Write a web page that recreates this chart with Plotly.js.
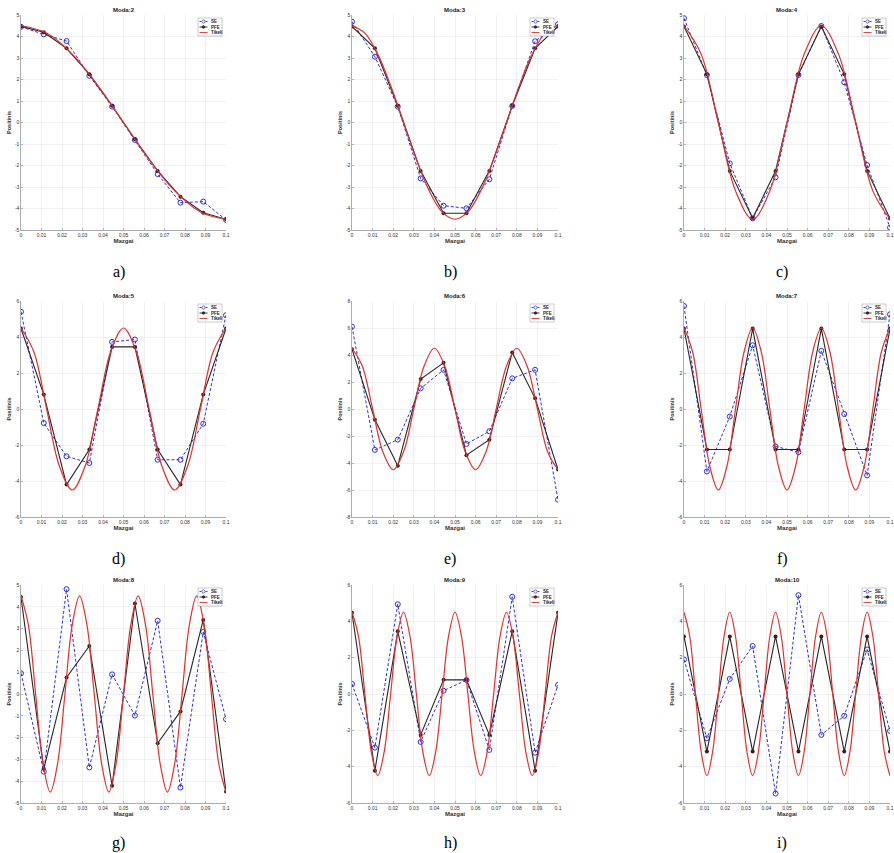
<!DOCTYPE html>
<html><head><meta charset="utf-8">
<script src="https://cdn.plot.ly/plotly-3.0.1.min.js"></script>
<style>html,body{margin:0;padding:0;background:#fff}#chart{width:894px;height:853px}</style>
</head><body><div id="chart"></div>
<script>
// ---------- data ----------
const nodeX = [0, 0.01111, 0.02222, 0.03333, 0.04444, 0.05556, 0.06667, 0.07778, 0.08889, 0.1];
const modeTitles = ['Moda:2','Moda:3','Moda:4','Moda:5','Moda:6','Moda:7','Moda:8','Moda:9','Moda:10'];
const panelLabels = ['a)','b)','c)','d)','e)','f)','g)','h)','i)'];
const seriesNames = ['SE','PFE','Tikeli'];
const xTickVals = [0,0.01,0.02,0.03,0.04,0.05,0.06,0.07,0.08,0.09,0.1];
const xTickText = ['0','0.01','0.02','0.03','0.04','0.05','0.06','0.07','0.08','0.09','0.1'];
const yLimit = [5,5,5,6,8,6,5,6,6];
const yStep  = [1,1,1,2,2,2,1,2,2];

const seM2  = [4.45, 4.1, 3.79, 2.17, 0.74, -0.81, -2.4, -3.73, -3.68, -4.53];
const pfeM2 = [4.47, 4.2, 3.45, 2.25, 0.78, -0.78, -2.25, -3.45, -4.2, -4.5];
const tikXM2 = [0,0.0125,0.025,0.0375,0.05,0.0625,0.075,0.0875,0.1];
const tikYM2 = [4.5,4.16,3.18,1.72,0,-1.72,-3.18,-4.16,-4.5];

const seM3  = [4.69, 3.06, 0.74, -2.6, -3.87, -3.99, -2.64, 0.77, 3.78, 4.57];
const pfeM3 = [4.47, 3.45, 0.78, -2.25, -4.22, -4.22, -2.25, 0.78, 3.45, 4.47];
const tikXM3 = [0,0.00625,0.0125,0.01875,0.025,0.03125,0.0375,0.04375,0.05,0.05625,0.0625,0.06875,0.075,0.08125,0.0875,0.09375,0.1];
const tikYM3 = [4.5,4.16,3.18,1.72,0,-1.72,-3.18,-4.16,-4.5,-4.16,-3.18,-1.72,0,1.72,3.18,4.16,4.5];

const seM4  = [4.85, 2.21, -1.9, -4.46, -2.55, 2.21, 4.49, 1.87, -1.98, -4.89];
const pfeM4 = [4.47, 2.25, -2.25, -4.45, -2.25, 2.25, 4.47, 2.25, -2.25, -4.47];
const tikXM4 = [0,0.00833,0.01667,0.025,0.03333,0.04167,0.05,0.05833,0.06667,0.075,0.08333,0.09167,0.1];
const tikYM4 = [4.5,3.18,0,-3.18,-4.5,-3.18,0,3.18,4.5,3.18,0,-3.18,-4.5];

const seM5  = [5.4, -0.78, -2.63, -3.0, 3.73, 3.86, -2.82, -2.82, -0.82, 5.21];
const pfeM5 = [4.47, 0.8, -4.2, -2.25, 3.45, 3.45, -2.25, -4.2, 0.8, 4.47];
const tikXM5 = [0,0.00625,0.0125,0.01875,0.025,0.03125,0.0375,0.04375,0.05,0.05625,0.0625,0.06875,0.075,0.08125,0.0875,0.09375,0.1];
const tikYM5 = [4.5,3.18,0,-3.18,-4.5,-3.18,0,3.18,4.5,3.18,0,-3.18,-4.5,-3.18,0,3.18,4.5];

const seM6  = [6.1, -3.03, -2.27, 1.53, 2.9, -2.59, -1.65, 2.27, 2.9, -6.72];
const pfeM6 = [4.43, -0.8, -4.2, 2.22, 3.42, -3.42, -2.27, 4.19, 0.79, -4.48];
const tikXM6 = [0,0.005,0.01,0.015,0.02,0.025,0.03,0.035,0.04,0.045,0.05,0.055,0.06,0.065,0.07,0.075,0.08,0.085,0.09,0.095,0.1];
const tikYM6 = [4.5,3.18,0,-3.18,-4.5,-3.18,0,3.18,4.5,3.18,0,-3.18,-4.5,-3.18,0,3.18,4.5,3.18,0,-3.18,-4.5];

const seM7  = [5.72, -3.47, -0.42, 3.54, -2.08, -2.4, 3.23, -0.28, -3.69, 5.26];
const pfeM7 = [4.47, -2.25, -2.25, 4.47, -2.25, -2.25, 4.47, -2.25, -2.25, 4.47];
const tikXM7 = [0,0.00417,0.00833,0.0125,0.01667,0.02083,0.025,0.02917,0.03333,0.0375,0.04167,0.04583,0.05,0.05417,0.05833,0.0625,0.06667,0.07083,0.075,0.07917,0.08333,0.0875,0.09167,0.09583,0.1];
const tikYM7 = [4.5,3.18,0,-3.18,-4.5,-3.18,0,3.18,4.5,3.18,0,-3.18,-4.5,-3.18,0,3.18,4.5,3.18,0,-3.18,-4.5,-3.18,0,3.18,4.5];

const seM8  = [0.95, -3.56, 4.81, -3.37, 0.9, -0.99, 3.36, -4.29, 2.85, -1.15];
const pfeM8 = [4.45, -3.43, 0.76, 2.2, -4.21, 4.15, -2.26, -0.8, 3.4, -4.47];
const tikXM8 = [0,0.00357,0.00714,0.01071,0.01429,0.01786,0.02143,0.025,0.02857,0.03214,0.03571,0.03929,0.04286,0.04643,0.05,0.05357,0.05714,0.06071,0.06429,0.06786,0.07143,0.075,0.07857,0.08214,0.08571,0.08929,0.09286,0.09643,0.1];
const tikYM8 = [4.5,3.18,0,-3.18,-4.5,-3.18,0,3.18,4.5,3.18,0,-3.18,-4.5,-3.18,0,3.18,4.5,3.18,0,-3.18,-4.5,-3.18,0,3.18,4.5,3.18,0,-3.18,-4.5];

const seM9  = [0.55, -2.95, 4.94, -2.64, 0.18, 0.77, -3.08, 5.35, -3.23, 0.5];
const pfeM9 = [4.47, -4.22, 3.45, -2.25, 0.78, 0.78, -2.25, 3.45, -4.22, 4.47];
const tikXM9 = [0,0.003125,0.00625,0.009375,0.0125,0.015625,0.01875,0.021875,0.025,0.028125,0.03125,0.034375,0.0375,0.040625,0.04375,0.046875,0.05,0.053125,0.05625,0.059375,0.0625,0.065625,0.06875,0.071875,0.075,0.078125,0.08125,0.084375,0.0875,0.090625,0.09375,0.096875,0.1];
const tikYM9 = [4.5,3.18,0,-3.18,-4.5,-3.18,0,3.18,4.5,3.18,0,-3.18,-4.5,-3.18,0,3.18,4.5,3.18,0,-3.18,-4.5,-3.18,0,3.18,4.5,3.18,0,-3.18,-4.5,-3.18,0,3.18,4.5];

const seM10  = [1.9, -2.44, 0.83, 2.64, -5.48, 5.44, -2.25, -1.2, 2.45, -2.03];
const pfeM10 = [3.17, -3.17, 3.17, -3.17, 3.17, -3.17, 3.17, -3.17, 3.17, -3.17];
const tikXM10 = [0,0.00278,0.00556,0.00833,0.01111,0.01389,0.01667,0.01944,0.02222,0.025,0.02778,0.03056,0.03333,0.03611,0.03889,0.04167,0.04444,0.04722,0.05,0.05278,0.05556,0.05833,0.06111,0.06389,0.06667,0.06944,0.07222,0.075,0.07778,0.08056,0.08333,0.08611,0.08889,0.09167,0.09444,0.09722,0.1];
const tikYM10 = [4.5,3.18,0,-3.18,-4.5,-3.18,0,3.18,4.5,3.18,0,-3.18,-4.5,-3.18,0,3.18,4.5,3.18,0,-3.18,-4.5,-3.18,0,3.18,4.5,3.18,0,-3.18,-4.5,-3.18,0,3.18,4.5,3.18,0,-3.18,-4.5];

const seAll  = [seM2, seM3, seM4, seM5, seM6, seM7, seM8, seM9, seM10];
const pfeAll = [pfeM2, pfeM3, pfeM4, pfeM5, pfeM6, pfeM7, pfeM8, pfeM9, pfeM10];
const tikXAll = [tikXM2, tikXM3, tikXM4, tikXM5, tikXM6, tikXM7, tikXM8, tikXM9, tikXM10];
const tikYAll = [tikYM2, tikYM3, tikYM4, tikYM5, tikYM6, tikYM7, tikYM8, tikYM9, tikYM10];

// ---------- layout / styles ----------
const W = 894, H = 853;
const colL = [21, 352, 684], colR = [226, 558, 890];
const rowT = [15, 301, 585], rowB = [230, 517, 803];
const captionY = [272, 559, 843];
const BLUE = 'rgb(45,45,225)', DARK = '#262626', PFEM = '#3a1c1c', RED = '#e3302c';
const FONT = 'Liberation Sans, Arial, sans-serif';

const traces = [];
const layout = {
  width: W, height: H, margin: {l:0, r:0, t:0, b:0},
  paper_bgcolor: '#fff', plot_bgcolor: '#fff',
  showlegend: false, annotations: [], shapes: [],
  font: {family: FONT, color: '#333'}
};
const px = v => v / W, py = v => 1 - v / H;

for (let i = 0; i < 9; i++) {
  const r = Math.floor(i / 3), c = i % 3, k = i === 0 ? '' : String(i + 1);
  const L = colL[c], R = colR[c], T = rowT[r], B = rowB[r];
  const yv = [];
  for (let v = -yLimit[i]; v <= yLimit[i] + 1e-9; v += yStep[i]) yv.push(v);
  layout['xaxis' + k] = {
    domain: [px(L), px(R)], anchor: 'y' + k, range: [0, 0.1],
    tickvals: xTickVals, ticktext: xTickText, tickfont: {size: 5, color: '#333'},
    showgrid: true, gridcolor: '#e8e8e8', gridwidth: 0.6, zeroline: false,
    showline: true, linecolor: '#777', linewidth: 0.6,
    ticks: 'inside', ticklen: 2, tickcolor: '#777', tickwidth: 0.5,
    title: {text: '<b>Mazgai</b>', font: {size: 6, color: '#333'}, standoff: 2},
    fixedrange: true
  };
  layout['yaxis' + k] = {
    domain: [py(B), py(T)], anchor: 'x' + k, range: [-yLimit[i], yLimit[i]],
    tickvals: yv, ticktext: yv.map(v => String(v)), tickfont: {size: 5, color: '#333'},
    showgrid: true, gridcolor: '#e8e8e8', gridwidth: 0.6, zeroline: false,
    showline: true, linecolor: '#777', linewidth: 0.6,
    ticks: 'inside', ticklen: 2, tickcolor: '#777', tickwidth: 0.5,
    title: {text: '<b>Positinis</b>', font: {size: 5.5, color: '#333'}, standoff: 2},
    fixedrange: true
  };
  const xa = 'x' + k, ya = 'y' + k;
  traces.push({x: nodeX, y: seAll[i], name: seriesNames[0], type: 'scatter', mode: 'lines+markers',
    xaxis: xa, yaxis: ya, line: {color: BLUE, width: 1, dash: '3px,2px'},
    marker: {symbol: 'circle-open', size: 5, color: BLUE, line: {width: 1, color: BLUE}}});
  traces.push({x: nodeX, y: pfeAll[i], name: seriesNames[1], type: 'scatter', mode: 'lines+markers',
    xaxis: xa, yaxis: ya, line: {color: DARK, width: 1.1},
    marker: {symbol: 'circle', size: 4, color: PFEM}});
  traces.push({x: tikXAll[i], y: tikYAll[i], name: seriesNames[2], type: 'scatter', mode: 'lines',
    xaxis: xa, yaxis: ya, line: {color: RED, width: 1.2, shape: 'spline'}});

  // title
  layout.annotations.push({text: '<b>' + modeTitles[i] + '</b>', xref: 'paper', yref: 'paper',
    x: px((L + R) / 2), y: py(T), xanchor: 'center', yanchor: 'bottom', yshift: 0,
    showarrow: false, font: {family: FONT, size: 6, color: '#222'}});
  // caption
  layout.annotations.push({text: panelLabels[i], xref: 'paper', yref: 'paper',
    x: px((L + R) / 2 - 5), y: py(captionY[r]), xanchor: 'center', yanchor: 'middle',
    showarrow: false, font: {family: 'Liberation Serif, Times New Roman, serif', size: 16, color: '#000'}});
  // legend box
  const bx0 = R - 28, bx1 = R - 4, by0 = T + 3, by1 = T + 21;
  layout.shapes.push({type: 'rect', xref: 'paper', yref: 'paper', x0: px(bx0), x1: px(bx1), y0: py(by0), y1: py(by1),
    line: {color: '#999', width: 0.5}, fillcolor: '#fff', layer: 'above'});
  const styles = [
    {color: BLUE, dash: '2px,1px', marker: 'open'},
    {color: DARK, dash: 'solid', marker: 'fill'},
    {color: RED, dash: 'solid', marker: null}
  ];
  for (let e = 0; e < 3; e++) {
    const cy = T + 6.5 + 5.5 * e;
    layout.shapes.push({type: 'line', xref: 'paper', yref: 'paper', x0: px(bx0 + 1.5), x1: px(bx0 + 9.5),
      y0: py(cy), y1: py(cy), line: {color: styles[e].color, width: 0.9, dash: styles[e].dash}, layer: 'above'});
    if (styles[e].marker) {
      const rr = styles[e].marker === 'open' ? 1.6 : 1.3;
      layout.shapes.push({type: 'circle', xref: 'paper', yref: 'paper',
        x0: px(bx0 + 5.5 - rr), x1: px(bx0 + 5.5 + rr), y0: py(cy - rr), y1: py(cy + rr),
        line: {color: styles[e].marker === 'open' ? BLUE : PFEM, width: 0.7},
        fillcolor: styles[e].marker === 'open' ? '#fff' : PFEM, layer: 'above'});
    }
    layout.annotations.push({text: '<b>' + seriesNames[e] + '</b>', xref: 'paper', yref: 'paper',
      x: px(bx0 + 11), y: py(cy), xanchor: 'left', yanchor: 'middle', showarrow: false,
      font: {family: FONT, size: 4.5, color: '#222'}});
  }
}

Plotly.newPlot('chart', traces, layout, {displayModeBar: false, staticPlot: true});
</script>
</body></html>
